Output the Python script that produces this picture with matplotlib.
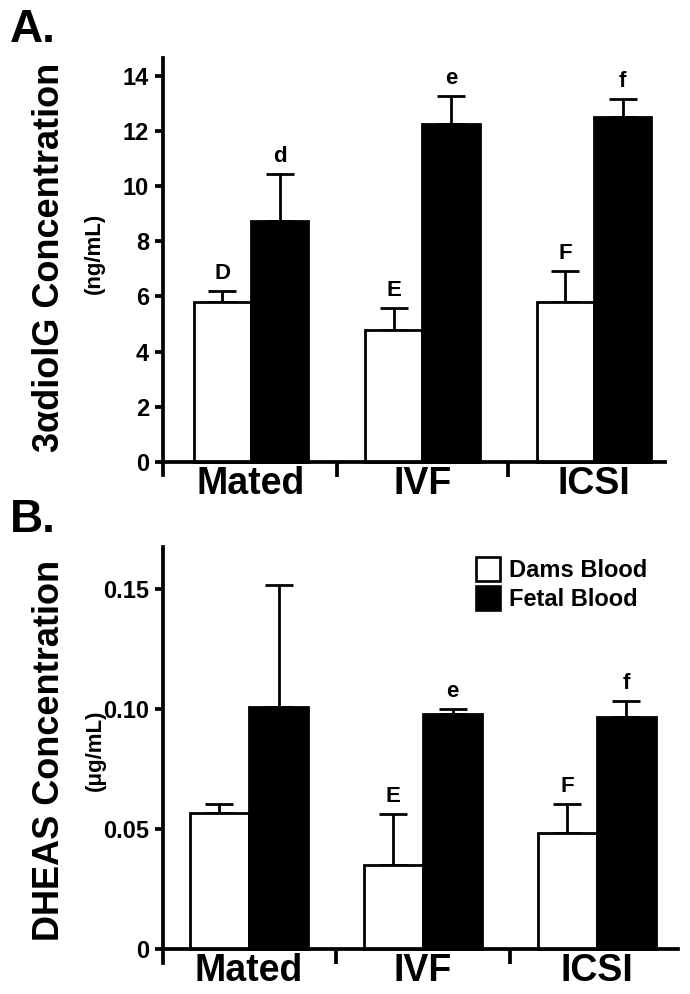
import matplotlib
matplotlib.use("Agg")
import matplotlib.pyplot as plt
from matplotlib import font_manager
from matplotlib.patches import Patch

names = {f.name for f in font_manager.fontManager.ttflist}
narrow = 'Liberation Sans Narrow' if 'Liberation Sans Narrow' in names else 'Liberation Sans'
plt.rcParams['font.family'] = ['Liberation Sans', 'DejaVu Sans']
plt.rcParams['font.weight'] = 'bold'

groups = ['Mated', 'IVF', 'ICSI']

# panel A: 3a-diolG (ng/mL)
a_dams = [5.8, 4.78, 5.8]
a_dams_err = [0.4, 0.82, 1.13]
a_fetal = [8.73, 12.25, 12.5]
a_fetal_err = [1.7, 1.01, 0.67]
a_dams_lbl = ['D', 'E', 'F']
a_fetal_lbl = ['d', 'e', 'f']

# panel B: DHEAS (ug/mL)
b_dams = [0.0567, 0.035, 0.0483]
b_dams_err = [0.0037, 0.0213, 0.0121]
b_fetal = [0.1008, 0.098, 0.0967]
b_fetal_err = [0.0509, 0.002, 0.0066]
b_dams_lbl = ['', 'E', 'F']
b_fetal_lbl = ['', 'e', 'f']

fig = plt.figure(figsize=(6.9, 9.94), dpi=100)
axA = fig.add_axes([0.2362, 0.5221, 0.7276, 0.4195])
axB = fig.add_axes([0.2362, 0.0312, 0.7464, 0.4185])


def panel(ax, dams, dams_err, fetal, fetal_err, dl, fl, w, xlim, ylim, yticks, ylabels):
    x = list(range(len(groups)))
    xd = [i - w / 2 for i in x]
    xf = [i + w / 2 for i in x]
    ax.bar(xd, dams, w, color='white', edgecolor='black', linewidth=2.0, zorder=2)
    ax.bar(xf, fetal, w, color='black', edgecolor='black', linewidth=2.0, zorder=2)
    ax.errorbar(xd, dams, yerr=[[0] * 3, dams_err], fmt='none', ecolor='black',
                elinewidth=2.0, capsize=10, capthick=2.0, zorder=1)
    ax.errorbar(xf, fetal, yerr=[[0] * 3, fetal_err], fmt='none', ecolor='black',
                elinewidth=2.0, capsize=10, capthick=2.0, zorder=1)
    for xs, vals, errs, lbls in [(xd, dams, dams_err, dl), (xf, fetal, fetal_err, fl)]:
        for xi, v, e, t in zip(xs, vals, errs, lbls):
            if t:
                ax.annotate(t, (xi, v + e), xytext=(0, 5), textcoords='offset points',
                            ha='center', va='bottom', fontsize=16, fontweight='bold')
    ax.set_xlim(*xlim)
    ax.set_ylim(*ylim)
    ax.spines['top'].set_visible(False)
    ax.spines['right'].set_visible(False)
    ax.spines['bottom'].set_position(('data', 0))
    for s in ['left', 'bottom']:
        ax.spines[s].set_linewidth(2.7)
    ax.set_yticks(yticks)
    ax.set_yticklabels(ylabels, fontsize=17, fontweight='bold', family=narrow)
    ax.tick_params(axis='y', length=6, width=2.7, pad=4)
    ax.set_xticks([0.5, 1.5])
    ax.set_xticklabels([])
    ax.set_xticks(x, minor=True)
    ax.set_xticklabels(groups, minor=True, fontsize=27, fontweight='bold', family=narrow)
    ax.tick_params(axis='x', which='major', length=11, width=2.7)
    ax.tick_params(axis='x', which='minor', length=0, pad=3)


panel(axA, a_dams, a_dams_err, a_fetal, a_fetal_err, a_dams_lbl, a_fetal_lbl, 0.333,
      (-0.513, 2.414), (-0.47, 14.64), [0, 2, 4, 6, 8, 10, 12, 14],
      ['0', '2', '4', '6', '8', '10', '12', '14'])
panel(axB, b_dams, b_dams_err, b_fetal, b_fetal_err, b_dams_lbl, b_fetal_lbl, 0.34,
      (-0.494, 2.466), (-0.0058, 0.1675), [0, 0.05, 0.10, 0.15],
      ['0', '0.05', '0.10', '0.15'])

fig.text(0.015, 0.970, 'A.', fontsize=33, fontweight='bold', va='center', ha='left')
fig.text(0.015, 0.477, 'B.', fontsize=33, fontweight='bold', va='center', ha='left')

fig.text(50 / 690, 1 - 257 / 994, '3\u03b1diolG Concentration', rotation=90,
         fontsize=26, fontweight='bold', ha='center', va='center')
fig.text(94 / 690, 1 - 253 / 994, '(ng/mL)', rotation=90,
         fontsize=16, fontweight='bold', ha='center', va='center')
fig.text(50 / 690, 1 - 750 / 994, 'DHEAS Concentration', rotation=90,
         fontsize=26, fontweight='bold', ha='center', va='center')
fig.text(95 / 690, 1 - 750 / 994, '(\u03bcg/mL)', rotation=90,
         fontsize=16, fontweight='bold', ha='center', va='center')

handles = [Patch(facecolor='white', edgecolor='black', linewidth=1.9),
           Patch(facecolor='black', edgecolor='black', linewidth=1.9)]
axB.legend(handles, ['Dams Blood', 'Fetal Blood'], loc='upper left',
           bbox_to_anchor=(476 / 690, 1 - 557 / 994), bbox_transform=fig.transFigure,
           frameon=False, prop={'weight': 'bold', 'size': 17},
           handlelength=1.0, handleheight=1.2, handletextpad=0.4,
           labelspacing=0.15, borderpad=0, borderaxespad=0)

fig.savefig('out.png', dpi=100)
